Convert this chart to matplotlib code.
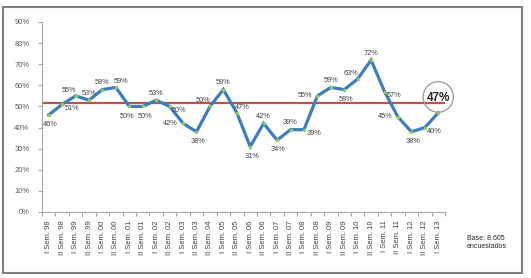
import numpy as np
import matplotlib.pyplot as plt
from matplotlib.patches import Rectangle, Ellipse

plt.rcParams['font.family'] = ['Liberation Sans', 'DejaVu Sans']

# periodos (no hay "I Sem. 04" en el original)
periodos = ['I Sem. 98', 'II Sem. 98', 'I Sem. 99', 'II Sem. 99', 'I Sem. 00', 'II Sem. 00',
            'I Sem. 01', 'II Sem. 01', 'I Sem. 02', 'II Sem. 02', 'I Sem. 03', 'II Sem. 03',
            'II Sem. 04', 'I Sem. 05', 'II Sem. 05', 'I Sem. 06', 'II Sem. 06', 'I Sem. 07',
            'II Sem. 07', 'I Sem. 08', 'II Sem. 08', 'I Sem. 09', 'II Sem. 09', 'I Sem. 10',
            'II Sem. 10', 'I Sem. 11', 'II Sem. 11', 'I Sem. 12', 'II Sem. 12', 'I Sem. 13']
valores = [46, 51, 55, 53, 58, 59, 50, 50, 53, 50, 42, 38, 50, 58, 47,
           31, 42, 34, 39, 39, 55, 59, 58, 63, 72, 57, 45, 38, 40, 47]
referencia = 51.5  # linea roja
base_txt = 'Base: 8.605\nencuestados'

# posicion de cada etiqueta: a=arriba, b=abajo, l=izq, r=der
pos = ['b', 'r', 'al', 'a', 'a', 'ar', 'bl', 'br', 'a', 'r', 'l', 'b', 'al', 'a', 'ar',
       'b', 'a', 'b', 'a', 'r', 'l', 'a', 'b', 'al', 'a', 'r', 'l', 'b', 'r', 'x']
desp = {'a': (0, 5), 'b': (1, -7), 'l': (-9, 0), 'r': (7, -3), 'al': (-5, 4),
        'ar': (4, 4), 'bl': (-1.5, -7), 'br': (2, -7)}

fig = plt.figure(figsize=(5.31, 2.78), dpi=100)
ax = fig.add_axes([42/531, 1-212/278, 403/531, 190/278])

x = np.arange(len(valores))
y = np.array(valores) / 100

ax.plot([-0.5, len(valores)-0.5], [referencia/100]*2, color='#C0504D', lw=1.6, zorder=2)
ax.plot(x, y, color='#3C7DC4', lw=2.3, zorder=3, solid_joinstyle='miter')
ax.plot(x, y, 'o', color='#92D050', ms=2.5, mec='none', zorder=4)

for i, v in enumerate(valores):
    p = pos[i]
    if p == 'x':
        continue
    dx, dy = desp[p]
    ax.annotate(f'{v}%', (x[i], y[i]), xytext=(dx, dy), textcoords='offset points',
                ha='center', va='center', fontsize=5.3, color='#404040', zorder=5)

# ultimo valor destacado
ax.annotate(f'{valores[-1]}%', (x[-1], y[-1]), xytext=(0, 11), textcoords='offset points',
            ha='center', va='center', fontsize=8.5, fontweight='bold', color='#262626', zorder=5)
ax.add_patch(Ellipse((x[-1], y[-1] + 0.075), 2.25, 0.145, fill=False, ec='#A0A0A0', lw=1.0,
                     zorder=5, clip_on=False))

ax.set_xlim(-0.5, len(valores)-0.5)
ax.set_ylim(0, 0.9)
ax.set_yticks(np.arange(0, 0.91, 0.1))
ax.set_yticklabels([f'{int(round(t*100))}%' for t in np.arange(0, 0.91, 0.1)])
ax.set_xticks(x)
ax.set_xticklabels(periodos, rotation=90)
ax.set_xticks(np.arange(-0.5, len(valores), 1), minor=True)
ax.tick_params(axis='x', which='major', length=0, labelsize=5.5, labelcolor='#404040', pad=6)
ax.tick_params(axis='x', which='minor', length=3, color='#A6A6A6', width=0.8)
ax.tick_params(axis='y', length=3, color='#A6A6A6', width=0.8, labelsize=5.5,
               labelcolor='#595959', pad=6)
for s in ['top', 'right']:
    ax.spines[s].set_visible(False)
for s in ['left', 'bottom']:
    ax.spines[s].set_color('#A6A6A6')
    ax.spines[s].set_linewidth(0.8)

fig.text(467/531, 1-243/278, base_txt, fontsize=5, color='#262626', ha='left', va='center')

fig.patches.append(Rectangle((3/531, 1-273/278), 519/531, 266/278, transform=fig.transFigure,
                             fill=False, ec='#7F7F7F', lw=1.5))

fig.savefig('out.png', dpi=100)
